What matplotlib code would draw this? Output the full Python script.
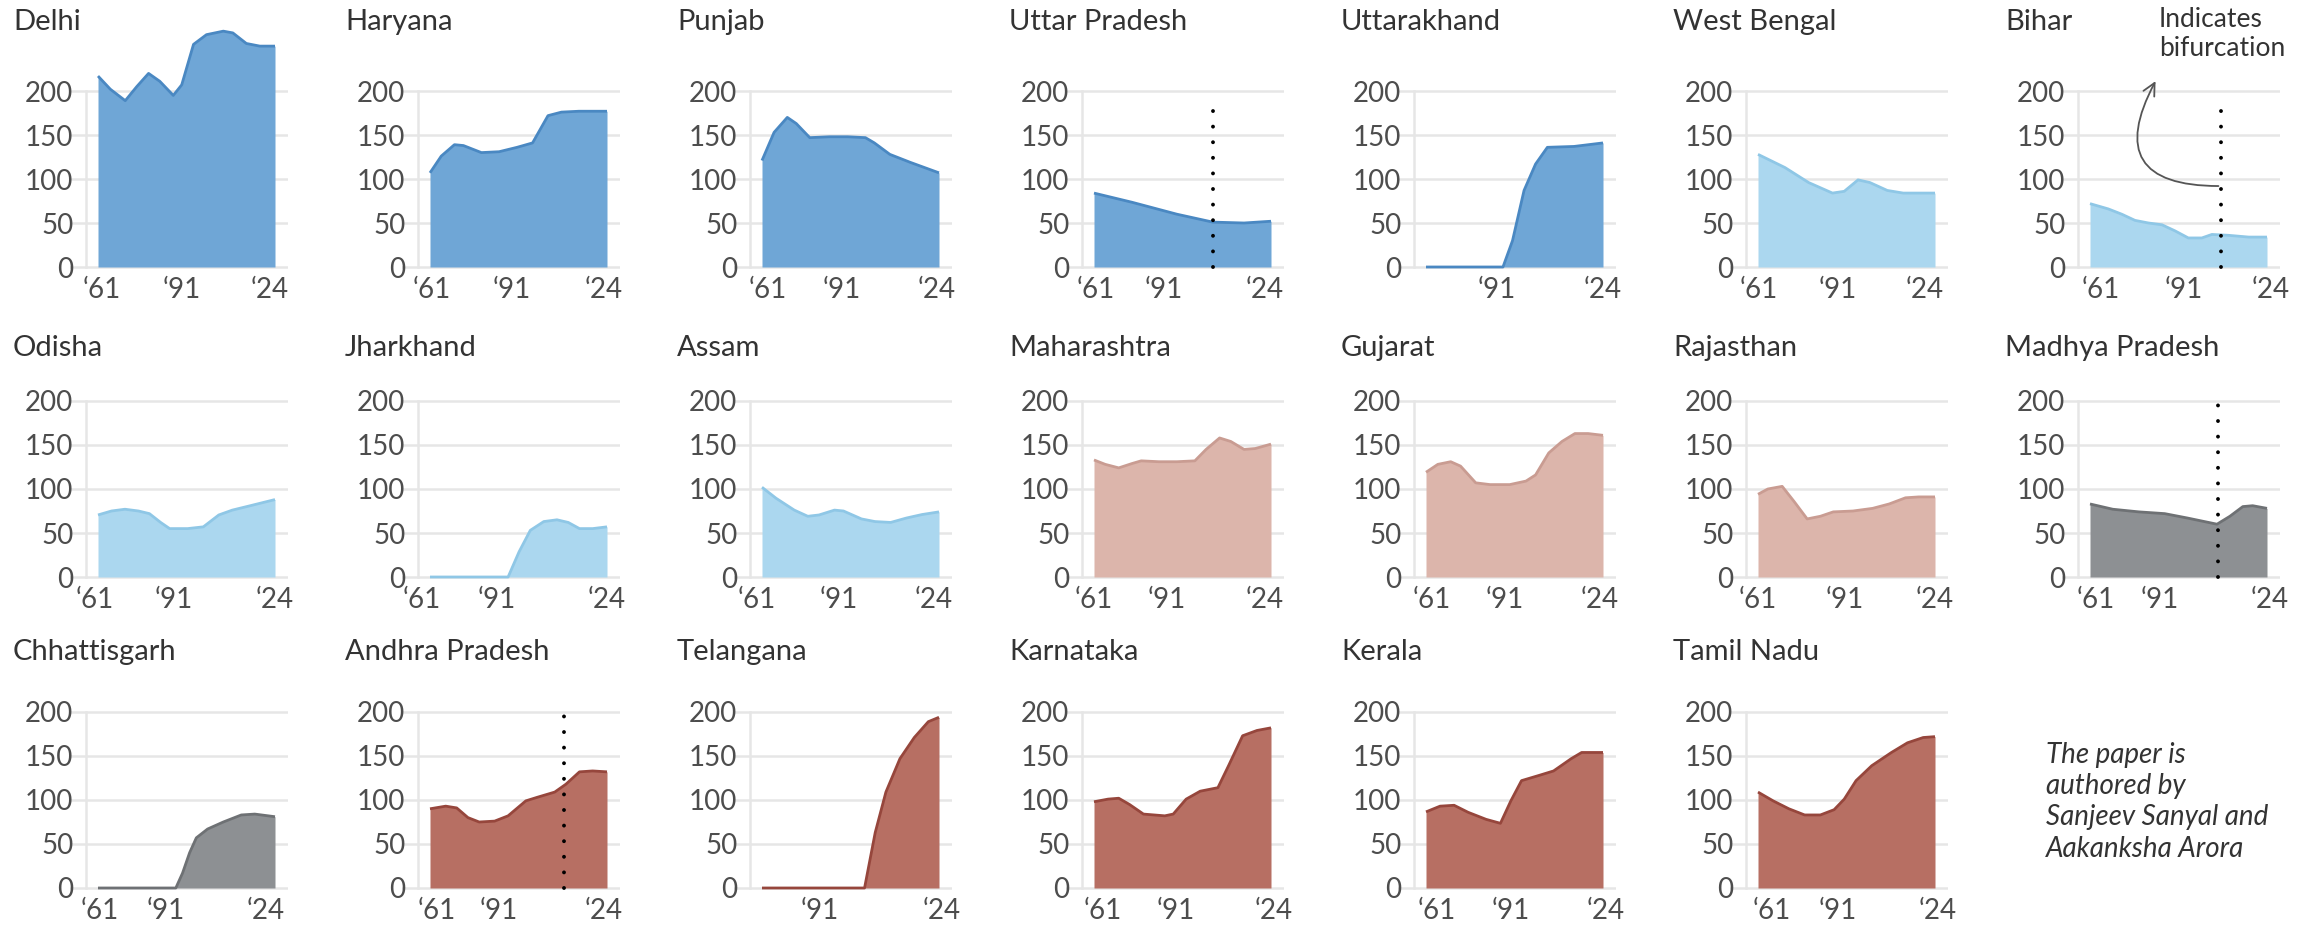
import matplotlib
matplotlib.use("Agg")
import matplotlib.pyplot as plt

plt.rcParams['font.family'] = ['Lato', 'DejaVu Sans']

# per-capita income relative to national average, 1961 to 2024
delhi_x = [1961, 1965.4, 1970.7, 1974.8, 1979, 1983, 1987.8, 1990.8, 1995, 1999.6, 2005.6, 2009, 2013.8, 2018.6, 2024]
delhi_y = [217, 202, 189, 205, 220, 211, 195, 207, 253, 264, 268, 266, 254, 251, 251]

haryana_x = [1961, 1965, 1969.7, 1972.9, 1979.3, 1985.6, 1992, 1997.5, 2003, 2007.8, 2014, 2024]
haryana_y = [107, 126, 139, 138, 130, 131, 136, 141, 172, 176, 177, 177]

punjab_x = [1961, 1965.3, 1970, 1973.2, 1978, 1985, 1991.5, 1997.8, 2001, 2006.5, 2013.7, 2024]
punjab_y = [121, 153, 170, 163, 147, 148, 148, 147, 141, 128, 119, 107]

up_x = [1961, 1974.6, 1990.5, 2003.3, 2014.4, 2024]
up_y = [84, 73.5, 60, 51, 50, 52]

uttarakhand_x = [1961, 1988.4, 1991.8, 1995.9, 2000, 2004.2, 2013.7, 2024]
uttarakhand_y = [0, 0, 30, 87, 117, 136, 137, 141]

wb_x = [1961, 1970.6, 1979, 1987.5, 1991.7, 1996.6, 2000.8, 2007, 2012.7, 2024]
wb_y = [128, 113, 96, 84, 86, 99, 96, 87, 84, 84]

bihar_x = [1961, 1967.5, 1972.3, 1977, 1981.8, 1986.6, 1991.3, 1996, 2000.8, 2004.4, 2010.3, 2017.5, 2024]
bihar_y = [72, 66, 60, 53, 50, 48, 41, 33, 33, 37, 36, 34, 34]

odisha_x = [1961, 1965.8, 1970.6, 1975.4, 1979.3, 1983.3, 1986.5, 1992.9, 1998.5, 2004, 2008.8, 2015.2, 2024]
odisha_y = [70.5, 75, 77, 75, 72, 62, 55, 55, 57, 70.5, 76, 81, 88]

jharkhand_x = [1961, 1988.8, 1992.7, 1996.7, 2001.5, 2006.2, 2010.2, 2014.2, 2018.9, 2024]
jharkhand_y = [0, 0, 28.6, 53, 63, 65, 62, 55, 55, 57]

assam_x = [1961, 1966, 1972.5, 1977.3, 1981.3, 1986.8, 1990, 1996.4, 2001.2, 2006.8, 2012.4, 2018, 2024]
assam_y = [102, 89.5, 76, 69, 70.5, 76, 75, 66, 63, 62, 67, 71, 74]

maharashtra_x = [1961, 1965, 1969.8, 1974.6, 1977.8, 1984.1, 1990.5, 1996.9, 2000.9, 2005.7, 2009.7, 2014.4, 2018.4, 2024]
maharashtra_y = [133, 128, 124, 129, 132, 131, 131, 132, 145, 158, 154, 145, 146, 151]

gujarat_x = [1961, 1965.2, 1969.8, 1973.3, 1978.7, 1983.8, 1990.8, 1996.6, 2000, 2004.7, 2009.4, 2014, 2018.7, 2024]
gujarat_y = [119, 128, 131, 126, 107, 105, 105, 109, 116, 141, 154, 163, 163, 161]

rajasthan_x = [1961, 1964.5, 1969.6, 1973.8, 1978.5, 1983.2, 1987.8, 1994.8, 2001.8, 2007.7, 2013.5, 2018.2, 2024]
rajasthan_y = [94, 100, 103, 86, 66, 69, 74, 75, 78, 83, 90, 91, 91]

mp_x = [1961, 1969.1, 1978.4, 1987.6, 1995.7, 2006.2, 2010.8, 2015.4, 2018.9, 2024]
mp_y = [83, 77, 74, 72, 67, 60, 69, 80, 81, 78]

chhattisgarh_x = [1961, 1988.7, 1991.1, 1993.6, 1996, 2000, 2005.6, 2012, 2016.8, 2024]
chhattisgarh_y = [0, 0, 17, 40, 57, 67, 75, 83, 84, 81]

ap_x = [1961, 1966.6, 1970.5, 1974.5, 1978.5, 1984, 1988.8, 1995.1, 1999.1, 2005.4, 2009.4, 2014.2, 2018.9, 2024]
ap_y = [90, 93, 91, 80, 75, 76, 82, 99, 103, 109, 118, 132, 133, 132]

telangana_x = [1961, 1997.5, 2001.3, 2005.1, 2010.1, 2015.2, 2020.2, 2024]
telangana_y = [0, 0, 63, 109, 147, 171, 189, 194]

karnataka_x = [1961, 1966, 1969.8, 1973.6, 1978.6, 1986.2, 1989.2, 1993.8, 1998.8, 2005.1, 2008.9, 2013.9, 2019, 2024]
karnataka_y = [98, 101, 102, 95, 84, 82, 84, 101, 110, 114, 139, 173, 179, 182]

kerala_x = [1961, 1966, 1971, 1976, 1982.4, 1987.5, 1991.2, 1995, 2001.3, 2006.4, 2012.7, 2016.4, 2024]
kerala_y = [86.5, 93, 94, 86, 78, 73.5, 99, 122, 128, 133, 147, 154, 154]

tn_x = [1961, 1966.4, 1972, 1977.6, 1983.2, 1988.1, 1991.7, 1995.9, 2001.5, 2008.5, 2014.2, 2019.8, 2024]
tn_y = [109, 99, 90, 83, 83, 89, 101, 122, 139, 154, 165, 171, 172]

states = ['Delhi', 'Haryana', 'Punjab', 'Uttar Pradesh', 'Uttarakhand', 'West Bengal', 'Bihar',
          'Odisha', 'Jharkhand', 'Assam', 'Maharashtra', 'Gujarat', 'Rajasthan', 'Madhya Pradesh',
          'Chhattisgarh', 'Andhra Pradesh', 'Telangana', 'Karnataka', 'Kerala', 'Tamil Nadu']
groups = ['north'] * 5 + ['east'] * 5 + ['west'] * 3 + ['central'] * 2 + ['south'] * 5

series = [(delhi_x, delhi_y), (haryana_x, haryana_y), (punjab_x, punjab_y), (up_x, up_y),
          (uttarakhand_x, uttarakhand_y), (wb_x, wb_y), (bihar_x, bihar_y),
          (odisha_x, odisha_y), (jharkhand_x, jharkhand_y), (assam_x, assam_y),
          (maharashtra_x, maharashtra_y), (gujarat_x, gujarat_y), (rajasthan_x, rajasthan_y),
          (mp_x, mp_y), (chhattisgarh_x, chhattisgarh_y), (ap_x, ap_y),
          (telangana_x, telangana_y), (karnataka_x, karnataka_y), (kerala_x, kerala_y), (tn_x, tn_y)]

# x tick positions (years) and their labels for each panel
xticks = [[1962.4, 1990.8, 2022.1], [1961.5, 1990, 2023], [1962.9, 1989.5, 2023.2], [1961.5, 1985.7, 2021.6],
          [1986.3, 2024], [1961.4, 1989.5, 2020.5], [1965, 1994.3, 2025.4],
          [1960, 1988, 2024], [1958, 1984.8, 2024], [1959, 1988.4, 2022], [1961, 1987, 2021.6],
          [1963, 1989, 2023], [1961, 1991.8, 2024], [1963, 1985.8, 2025],
          [1961.5, 1985, 2020.8], [1963.4, 1985.3, 2022.9], [1981.5, 2025],
          [1964, 1990, 2025], [1965, 1991.2, 2025], [1966, 1989.5, 2025]]
xlabels = [['‘61', '‘91', '‘24']] * 4 + [['‘91', '‘24']] + [['‘61', '‘91', '‘24']] * 11 \
    + [['‘91', '‘24']] + [['‘61', '‘91', '‘24']] * 3

# year of bifurcation and height of the dotted marker
bifurcation = {'Uttar Pradesh': (2003.3, 182), 'Bihar': (2007.7, 179),
               'Madhya Pradesh': (2006.6, 197), 'Andhra Pradesh': (2008.6, 196)}

colors = {'north': ('#6fa6d6', '#4a88c2'), 'east': ('#abd7ef', '#8fc7e6'),
          'west': ('#dcb5ab', '#c99c92'), 'central': ('#8d9093', '#6e7174'),
          'south': ('#b76f63', '#96463c')}

W, H = 2321, 926
fig = plt.figure(figsize=(W / 100, H / 100), dpi=100)

zero_y = [267, 577, 888]
title_y = [22, 348, 652]
ppu = 0.88  # pixels per unit
ymin, ymax = -4, 280
px_year = 177 / 63

for i, name in enumerate(states):
    r, c = divmod(i, 7)
    spine = 86 + 332 * c
    left = spine - 16
    bottom = zero_y[r] - ymin * ppu
    ax = fig.add_axes([left / W, 1 - bottom / H, 218 / W, (ymax - ymin) * ppu / H])
    ax.set_xlim(1961 - 28 / px_year, 2024 + 13 / px_year)
    ax.set_ylim(ymin, ymax)

    fill, edge = colors[groups[i]]
    x, y = series[i]
    ax.fill_between(x, y, 0, color=fill, lw=0, zorder=2)
    ax.plot(x, y, color=edge, lw=2, zorder=3, solid_capstyle='butt', solid_joinstyle='round')

    if name in bifurcation:
        bx, btop = bifurcation[name]
        ax.plot([bx, bx], [0, btop], color='black', lw=2.8,
                linestyle=(0, (0.01, 4.0)), dash_capstyle='round', zorder=4)

    for s in ['top', 'right', 'bottom']:
        ax.spines[s].set_visible(False)
    ax.spines['left'].set_position(('data', 1961 - 12 / px_year))
    ax.spines['left'].set_bounds(0, 200)
    ax.spines['left'].set_color('#e6e6e6')
    ax.spines['left'].set_linewidth(1.8)

    ax.set_yticks([0, 50, 100, 150, 200])
    ax.yaxis.grid(True, color='#e6e6e6', lw=1.8)
    ax.set_axisbelow(True)
    ax.set_xticks(xticks[i], labels=xlabels[i])
    ax.tick_params(axis='both', length=0, labelsize=20, labelcolor='#4d4d4d')
    ax.tick_params(axis='y', pad=9)
    ax.tick_params(axis='x', pad=5)

    fig.text((spine - 73) / W, 1 - title_y[r] / H, name, fontsize=21,
             color='#333333', va='center', ha='left')

    if name == 'Bihar':
        bx, btop = bifurcation[name]
        ax.annotate('', xy=(1984.8, 214), xytext=(bx, 92),
                    arrowprops=dict(arrowstyle='->', connectionstyle='arc3,rad=-0.85',
                                    color='#555555', lw=1.3, mutation_scale=22),
                    annotation_clip=False)
        fig.text(2159 / W, 1 - 34 / H, 'Indicates\nbifurcation', fontsize=19,
                 color='#333333', va='center', ha='left', linespacing=1.2)

fig.text(2046 / W, 1 - 742 / H, 'The paper is\nauthored by\nSanjeev Sanyal and\nAakanksha Arora',
         fontsize=20, style='italic', color='#333333', va='top', ha='left', linespacing=1.25)

fig.savefig('out.png', dpi=100)
